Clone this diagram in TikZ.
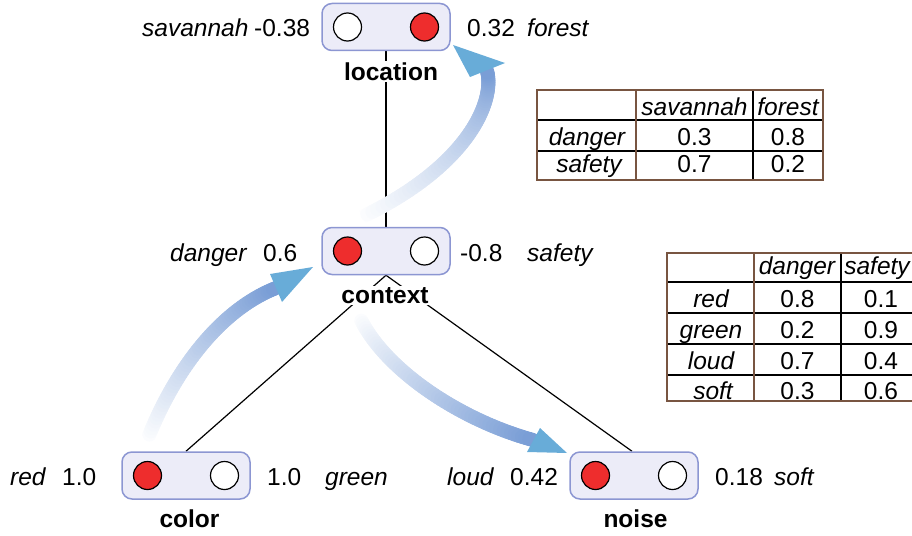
\documentclass[tikz,border=0pt]{standalone}
\usepackage{fontspec}
\setmainfont{Liberation Sans}
\usetikzlibrary{calc}
\definecolor{boxfill}{RGB}{236,236,248}
\definecolor{boxdraw}{RGB}{140,150,210}
\definecolor{redc}{RGB}{238,45,45}
\definecolor{shaftc}{RGB}{122,158,214}
\definecolor{headc}{RGB}{104,172,216}
\definecolor{tabbrown}{RGB}{120,85,65}
\pgfdeclarelayer{bg}
\pgfsetlayers{bg,main}
\newcommand\gradshaft[5]{%
  \path #2 .. controls #3 and #4 .. #5
    foreach \k in {0,...,60}{ coordinate[pos=\k/60] (#1-\k) };
  \draw[line width=14pt, line cap=butt, color=shaftc!1!white] (#1-0) -- (#1-1);
  \foreach \k [evaluate=\k as \j using int(\k-1), evaluate=\k as \pc using 100*\k/60] in {2,...,60}{
    \draw[line width=14pt, line cap=round, color=shaftc!\pc!white] (#1-\j) -- (#1-\k);
  }%
}
\begin{document}
\begin{tikzpicture}[x=1pt,y=-1pt,
  txt/.style={font=\fontsize{24.5}{29}\selectfont, inner sep=0pt, anchor=base west},
  itx/.style={txt, font=\fontsize{24.5}{29}\selectfont\itshape},
  cell/.style={font=\fontsize{24.5}{29}\selectfont, inner sep=0pt, anchor=base},
  icell/.style={cell, font=\fontsize{24.5}{29}\selectfont\itshape},
  varbox/.style={draw=boxdraw, fill=boxfill, line width=1.5pt, rounded corners=10pt, minimum width=128pt, minimum height=47pt, inner sep=0pt},
  val/.style={circle, draw=black, line width=1.2pt, minimum size=28pt, inner sep=0pt},
  nm/.style={font=\fontsize{24.5}{29}\selectfont\bfseries, fill=white, inner sep=1.5pt, anchor=base},
  link/.style={line width=1.2pt, black},
  tabin/.style={line width=1.5pt, black},
  tabout/.style={line width=2pt, tabbrown},
]
\useasboundingbox (0,0) rectangle (912,535);

% variable boxes
\node[varbox] (loc) at (386,27) {};
\node[varbox] (ctx) at (386,251) {};
\node[varbox] (col) at (186,475.5) {};
\node[varbox] (noi) at (634,475.5) {};

\node[val, fill=white] (locA) at ($(loc)+(-38.5,0)$) {};
\node[val, fill=redc]  (locB) at ($(loc)+(38.5,0)$) {};
\node[val, fill=redc]  (ctxA) at ($(ctx)+(-38.5,0)$) {};
\node[val, fill=white] (ctxB) at ($(ctx)+(38.5,0)$) {};
\node[val, fill=redc]  (colA) at ($(col)+(-38.5,0)$) {};
\node[val, fill=white] (colB) at ($(col)+(38.5,0)$) {};
\node[val, fill=redc]  (noiA) at ($(noi)+(-38.5,0)$) {};
\node[val, fill=white] (noiB) at ($(noi)+(38.5,0)$) {};

% connectors (behind)
\begin{pgfonlayer}{bg}
  \draw[link] (loc.south) -- (ctx.north);
  \draw[link] (ctx.south) -- (col.north);
  \draw[link] (ctx.south) -- ($(noi.north)+(-2,0)$);
\end{pgfonlayer}

% variable names
\node[nm] (locN) at (391,80) {location};
\node[nm] (ctxN) at (385,303) {context};
\node[nm] (colN) at (189.5,527) {color};
\node[nm] (noiN) at (635.5,527) {noise};

% value labels
\node[itx] (l1) at (142,36.5) {savannah};
\node[txt] (l2) at (254,36.5) {-0.38};
\node[txt] (l3) at (467,36.5) {0.32};
\node[itx] (l4) at (527,36.5) {forest};

\node[itx] (c1) at (170,261.5) {danger};
\node[txt] (c2) at (263,261.5) {0.6};
\node[txt] (c3) at (460,261.5) {-0.8};
\node[itx] (c4) at (527,261.5) {safety};

\node[itx] (r1) at (10,485) {red};
\node[txt] (r2) at (62,485) {1.0};
\node[txt] (r3) at (267,485) {1.0};
\node[itx] (r4) at (325,485) {green};

\node[itx] (n1) at (447,485) {loud};
\node[txt] (n2) at (510,485) {0.42};
\node[txt] (n3) at (715,485) {0.18};
\node[itx] (n4) at (774,485) {soft};

% gradient arrows
\gradshaft{aa}{(362,217)}{(470,165)}{(495,100)}{(487,71)}
\fill[headc] (453,45) -- (505,63) -- (470,77) -- cycle;

\gradshaft{ab}{(148,438)}{(175,370)}{(220,310)}{(276,288)}
\fill[headc] (313,267) -- (270,274) -- (282,302) -- cycle;

\gradshaft{ac}{(360,318)}{(385,370)}{(460,420)}{(533,440)}
\fill[headc] (567,453) -- (540,428) -- (527,452) -- cycle;

% table 1
\draw[tabin] (753,90) -- (753,180) (537,120) -- (823,120) (537,151) -- (823,151);
\draw[tabout, line width=1.5pt] (636,90) -- (636,180);
\draw[tabout] (537,90) rectangle (823,180);
\node[icell] (t1h1) at (694.5,115) {savannah};
\node[icell] (t1h2) at (788,115) {forest};
\node[icell] (t1r1) at (587,145) {danger};
\node[cell]  (t1a) at (694.5,145) {0.3};
\node[cell]  (t1b) at (788,145) {0.8};
\node[icell] (t1r2) at (589,172) {safety};
\node[cell]  (t1c) at (694.5,172) {0.7};
\node[cell]  (t1d) at (788,172) {0.2};

% table 2
\draw[tabin] (841,253) -- (841,401) (667,282) -- (920,282) (667,313) -- (920,313)
  (667,344) -- (920,344) (667,375) -- (920,375);
\draw[tabout, line width=1.5pt] (754,253) -- (754,401);
\draw[tabout] (667,253) rectangle (920,401);
\node[icell] (t2h1) at (797,274) {danger};
\node[icell] (t2h2) at (877,274) {safety};
\node[icell] (t2r1) at (711,307) {red};
\node[cell]  (t2a) at (797.5,307) {0.8};
\node[cell]  (t2b) at (881,307) {0.1};
\node[icell] (t2r2) at (711,338) {green};
\node[cell]  (t2c) at (797.5,338) {0.2};
\node[cell]  (t2d) at (881,338) {0.9};
\node[icell] (t2r3) at (711,369) {loud};
\node[cell]  (t2e) at (797.5,369) {0.7};
\node[cell]  (t2f) at (881,369) {0.4};
\node[icell] (t2r4) at (713,399) {soft};
\node[cell]  (t2g) at (797.5,399) {0.3};
\node[cell]  (t2h) at (881,399) {0.6};
\end{tikzpicture}
\end{document}
